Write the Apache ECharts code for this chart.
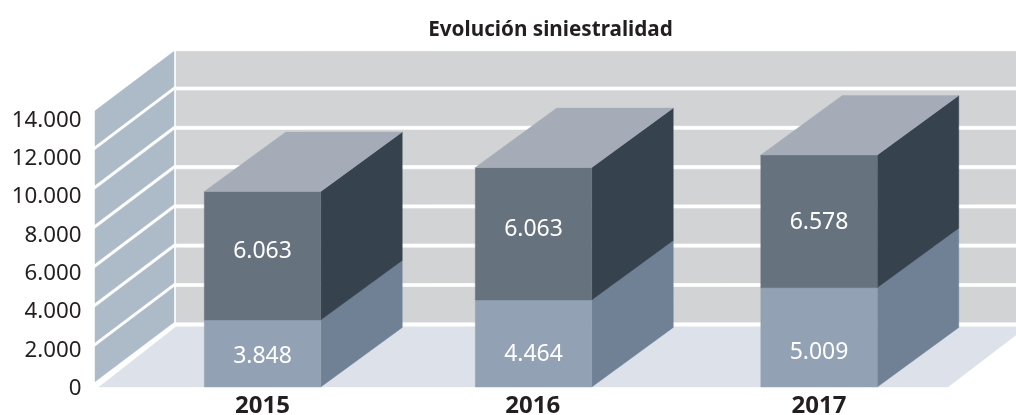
<!DOCTYPE html>
<html>
<head>
<meta charset="utf-8">
<style>html,body{margin:0;padding:0;background:#fff}#c{width:1016px;height:415px}</style>
<script src="https://cdn.jsdelivr.net/npm/echarts@6/dist/echarts.min.js"></script>
</head>
<body>
<div id="c"></div>
<script>
// ---- data ----
const titleText = 'Evolución siniestralidad';
const categories = ['2015', '2016', '2017'];
// values printed on the segments
const lowerLabels = [3848, 4464, 5009];
const upperLabels = [6063, 6063, 6578];
// segment heights as read against the picture's axis (the printed numbers are not drawn to scale)
const lowerHeights = [3500, 4545, 5187];
const upperHeights = [6712, 6921, 6932];
const yTicks = [0, 2000, 4000, 6000, 8000, 10000, 12000, 14000];

// ---- layout / style ----
const FONT = '"Noto Sans", sans-serif';
const BAR_W = 116.5, DEPTH_X = 81.5, DEPTH_Y = 59.5;
const barShift = [0, -7.25, 0];
const lowerLabelShift = [2.5, 10.5, 14.7];
const upperLabelShift = [-4.75, -4.75, 1];
const WALL_DX = 79, WALL_DY = 59.5, WALL_GAP = 2.1;
const COL = {
  wall: '#d2d3d5', side: '#adbac8', floor: '#dde2ea',
  top: '#a5acb7',
  lowF: '#92a1b3', lowS: '#708196',
  upF: '#67727f', upS: '#36424e'
};
const fmt = v => String(v).replace(/\B(?=(\d{3})+$)/g, '.');

function poly(points, fill) {
  return { type: 'polygon', shape: { points }, style: { fill, stroke: fill, lineWidth: 0.4 } };
}

function renderWall(params, api) {
  const v = api.value(0);
  const a = api.coord([0, v]), b = api.coord([0, v + 2000]);
  const right = api.coord([1, 0])[0];
  const y0 = a[1] - WALL_GAP, y1 = b[1] + WALL_GAP;
  const x0 = a[0], x1 = a[0] + WALL_DX;
  return { type: 'group', children: [
    poly([[x0, y0], [x1, y0 - WALL_DY], [x1, y1 - WALL_DY], [x0, y1]], COL.side),
    poly([[x1 + 2, y0 - WALL_DY], [right + WALL_DX, y0 - WALL_DY], [right + WALL_DX, y1 - WALL_DY], [x1 + 2, y1 - WALL_DY]], COL.wall)
  ]};
}

function renderFloor(params, api) {
  const a = api.coord([0, 0]), b = api.coord([1, 0]);
  const fy = a[1] + 3.2;
  return poly([[a[0] + 4, fy], [b[0], fy], [b[0] + WALL_DX, fy - 60.3], [a[0] + WALL_DX + 2, fy - 60.3]], COL.floor);
}

function makeBar(front, side, withTop, labels, shifts) {
  return function (params, api) {
    const i = api.value(0);
    const base = api.coord([i, api.value(1)]);
    const head = api.coord([i, api.value(2)]);
    const xl = base[0] + barShift[i] - BAR_W / 2, xr = xl + BAR_W;
    const yb = base[1], yt = head[1];
    const kids = [
      poly([[xr, yb], [xr + DEPTH_X, yb - DEPTH_Y], [xr + DEPTH_X, yt - DEPTH_Y], [xr, yt]], side),
      poly([[xl, yb], [xr, yb], [xr, yt], [xl, yt]], front)
    ];
    if (withTop) {
      kids.push(poly([[xl, yt], [xr, yt], [xr + DEPTH_X, yt - DEPTH_Y], [xl + DEPTH_X, yt - DEPTH_Y]], COL.top));
    }
    kids.push({
      type: 'text',
      style: {
        x: (xl + xr) / 2, y: (yb + yt) / 2 + shifts[i],
        text: fmt(labels[i]), fill: '#ffffff', font: '400 23px ' + FONT,
        textAlign: 'center', textVerticalAlign: 'middle'
      }
    });
    return { type: 'group', children: kids };
  };
}

const lowerData = categories.map((c, i) => [i, 0, lowerHeights[i]]);
const upperData = categories.map((c, i) => [i, lowerHeights[i], lowerHeights[i] + upperHeights[i]]);
const wallData = yTicks.slice(0, -1).map(v => [v]);

const chart = echarts.init(document.getElementById('c'), null, { renderer: 'canvas' });
chart.setOption({
  animation: false,
  backgroundColor: '#ffffff',
  title: {
    text: titleText, left: 545.5, top: 15, textAlign: 'center',
    textStyle: { fontFamily: FONT, fontWeight: 700, fontSize: 20.7, color: '#231f20' }
  },
  grid: [
    { left: 123.4, width: 834.75, top: 119, height: 268, containLabel: false, outerBoundsMode: 'none' },
    { left: 95, width: 853, top: 108.7, height: 275.1, containLabel: false, outerBoundsMode: 'none' }
  ],
  xAxis: [
    {
      type: 'category', gridIndex: 0, data: categories,
      axisLine: { show: false }, axisTick: { show: false },
      axisLabel: {
        margin: 7, interval: 0, color: '#231f20',
        formatter: (v, i) => '{' + (i === 1 ? 'n' : 'a') + '|' + v + '}',
        rich: {
          a: { fontFamily: FONT, fontWeight: 700, fontSize: 24, color: '#231f20' },
          n: { fontFamily: FONT, fontWeight: 700, fontSize: 24, color: '#231f20', padding: [0, 16, 0, 0] }
        }
      }
    },
    { type: 'value', gridIndex: 1, min: 0, max: 1, show: false }
  ],
  yAxis: [
    {
      type: 'value', gridIndex: 0, min: 0, max: 14000, interval: 2000,
      axisLine: { show: false }, axisTick: { show: false }, splitLine: { show: false },
      axisLabel: {
        margin: 42, align: 'right', color: '#231f20',
        formatter: v => '{l|' + fmt(v) + '}',
        rich: { l: { fontFamily: FONT, fontSize: 22.3, color: '#231f20', padding: [3, 0, 0, 0] } }
      }
    },
    { type: 'value', gridIndex: 1, min: 0, max: 14000, interval: 2000, show: false }
  ],
  series: [
    { type: 'custom', name: 'walls', xAxisIndex: 1, yAxisIndex: 1, z: 1, silent: true, clip: false,
      renderItem: renderWall, data: wallData, encode: { y: 0 } },
    { type: 'custom', name: 'floor', xAxisIndex: 1, yAxisIndex: 1, z: 2, silent: true, clip: false,
      renderItem: renderFloor, data: [[0]], encode: { y: 0 } },
    { type: 'custom', name: 'lower', xAxisIndex: 0, yAxisIndex: 0, z: 3, clip: false,
      renderItem: makeBar(COL.lowF, COL.lowS, false, lowerLabels, lowerLabelShift),
      data: lowerData, encode: { x: 0, y: [1, 2] } },
    { type: 'custom', name: 'upper', xAxisIndex: 0, yAxisIndex: 0, z: 4, clip: false,
      renderItem: makeBar(COL.upF, COL.upS, true, upperLabels, upperLabelShift),
      data: upperData, encode: { x: 0, y: [1, 2] } }
  ]
});
</script>
</body>
</html>
